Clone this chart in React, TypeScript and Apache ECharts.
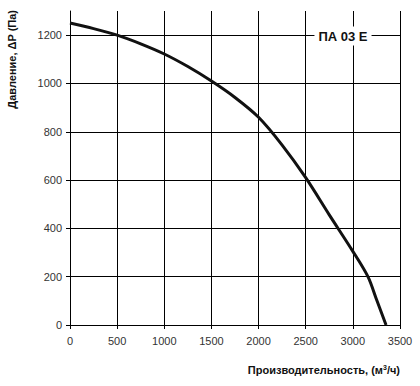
import React, { useEffect, useRef } from "react";
import * as echarts from "echarts";

const flow = [0, 250, 500, 750, 1000, 1250, 1500, 1750, 2000, 2250, 2500, 2750, 3000, 3160, 3256, 3352];
const pressure = [1250, 1227, 1200, 1164, 1122, 1070, 1010, 942, 860, 745, 610, 456, 305, 200, 100, 0];
const yLabelValues = [0, 200, 400, 600, 800, 1000, 1200];
const modelLabel = "ПА 03 Е";
const xTitle = "Производительность, (м";
const yTitle = "Давление, ΔP (Па)";

export default function App() {
  const ref = useRef<HTMLDivElement>(null);
  useEffect(() => {
    const chart = echarts.init(ref.current!, null, { renderer: "svg" });
    const font = "Liberation Sans, Arial, sans-serif";
    chart.setOption({
      animation: false,
      grid: { left: 70, right: 20, top: 11, bottom: 61 },
      xAxis: {
        type: "value",
        min: 0,
        max: 3500,
        interval: 500,
        axisLine: { show: true, lineStyle: { color: "#000", width: 1 } },
        axisTick: { show: true, length: 4, lineStyle: { color: "#000" } },
        axisLabel: { color: "#333", fontSize: 11, fontFamily: font, margin: 10, formatter: (v: number) => String(v) },
        splitLine: { show: true, lineStyle: { color: "#000", width: 1 } },
      },
      yAxis: {
        type: "value",
        min: 0,
        max: 1300,
        interval: 100,
        axisLine: { show: true, lineStyle: { color: "#000", width: 1 } },
        axisTick: { show: true, length: 4, customValues: yLabelValues, lineStyle: { color: "#000" } },
        axisLabel: {
          color: "#333",
          fontSize: 11,
          fontFamily: font,
          margin: 8,
          customValues: yLabelValues,
          formatter: (v: number) => String(v),
        },
        splitLine: { show: true, lineStyle: { color: "#000", width: 1 } },
      },
      series: [
        {
          type: "line",
          data: flow.map((f, i) => [f, pressure[i]]),
          smooth: 0.3,
          showSymbol: false,
          lineStyle: { color: "#111", width: 3 },
        },
      ],
      graphic: [
        {
          type: "text",
          x: 343,
          y: 36,
          z: 100,
          style: {
            text: modelLabel,
            fontSize: 13,
            fontWeight: "bold",
            fontFamily: font,
            fill: "#111",
            align: "center",
            verticalAlign: "middle",
            backgroundColor: "#fff",
            padding: [3, 4],
          },
        },
        {
          type: "text",
          x: 400,
          y: 370,
          style: {
            text: "{a|" + xTitle + "}{s|3}{a|/ч)}",
            align: "right",
            verticalAlign: "middle",
            rich: {
              a: { fontSize: 11, fontWeight: "bold", fontFamily: font, fill: "#111" },
              s: { fontSize: 7, fontWeight: "bold", fontFamily: font, fill: "#111", verticalAlign: "top", padding: [0, 0, 6, 0] },
            },
          },
        },
        {
          type: "text",
          x: 12,
          y: 10,
          rotation: Math.PI / 2,
          style: {
            text: yTitle,
            fontSize: 11,
            fontWeight: "bold",
            fontFamily: font,
            fill: "#111",
            align: "right",
            verticalAlign: "middle",
          },
        },
      ],
    });
    return () => chart.dispose();
  }, []);
  return <div ref={ref} style={{ width: 420, height: 386, position: "absolute", left: 0, top: 0 }} />;
}
